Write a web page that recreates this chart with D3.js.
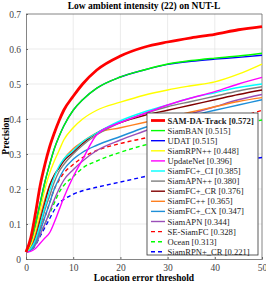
<!DOCTYPE html>
<html><head><meta charset="utf-8">
<script src="https://cdn.jsdelivr.net/npm/d3@7"></script>
<style>body{margin:0;background:#fff}svg{display:block}</style>
</head><body>
<svg id="c" width="266" height="284"></svg>
<script>
const thresholds = [0,1,2,3,4,5,6,7,8,10,12,15,20,25,30,35,40,45,50];
const xTicks = [0,10,20,30,40,50];
const yTicks = [0,0.1,0.2,0.3,0.4,0.5,0.6,0.7];
const names = ["SAM-DA-Track [0.572]","SiamBAN [0.515]","UDAT [0.515]","SiamRPN++ [0.448]","UpdateNet [0.396]","SiamFC+_CI [0.385]","SiamAPN++ [0.380]","SiamFC+_CR [0.376]","SiamFC++ [0.365]","SiamFC+_CX [0.347]","SiamAPN [0.344]","SE-SiamFC [0.328]","Ocean [0.313]","SiamRPN+_CR [0.221]"];
const samda     = [0.02,0.06,0.13,0.21,0.27,0.32,0.36,0.395,0.425,0.465,0.50,0.54,0.58,0.605,0.62,0.632,0.642,0.655,0.664];
const siamban   = [0.02,0.05,0.10,0.16,0.22,0.27,0.315,0.35,0.38,0.425,0.455,0.488,0.52,0.54,0.557,0.567,0.574,0.58,0.588];
const udat      = [0.02,0.05,0.10,0.16,0.22,0.27,0.315,0.35,0.38,0.425,0.455,0.488,0.52,0.54,0.556,0.565,0.571,0.576,0.582];
const siamrpnpp = [0.02,0.04,0.085,0.14,0.20,0.245,0.28,0.31,0.34,0.375,0.40,0.425,0.448,0.468,0.483,0.495,0.506,0.528,0.557];
const updatenet = [0.02,0.022,0.03,0.045,0.06,0.075,0.105,0.14,0.175,0.235,0.285,0.355,0.39,0.415,0.44,0.46,0.478,0.50,0.519];
const fcCI      = [0.02,0.03,0.055,0.10,0.15,0.195,0.235,0.265,0.285,0.31,0.335,0.36,0.395,0.42,0.44,0.46,0.475,0.49,0.50];
const apnpp     = [0.02,0.03,0.05,0.09,0.14,0.18,0.22,0.25,0.27,0.30,0.325,0.355,0.39,0.415,0.435,0.45,0.465,0.48,0.492];
const fcCR      = [0.02,0.03,0.06,0.11,0.16,0.21,0.24,0.26,0.28,0.305,0.33,0.36,0.39,0.41,0.425,0.44,0.455,0.47,0.483];
const fcpp      = [0.02,0.035,0.07,0.12,0.17,0.21,0.24,0.26,0.285,0.315,0.335,0.36,0.375,0.39,0.405,0.42,0.435,0.45,0.461];
const fcCX      = [0.02,0.025,0.045,0.08,0.12,0.16,0.20,0.23,0.255,0.285,0.305,0.325,0.35,0.375,0.395,0.41,0.425,0.44,0.455];
const apn       = [0.02,0.025,0.04,0.07,0.10,0.135,0.17,0.20,0.225,0.255,0.28,0.31,0.34,0.365,0.39,0.415,0.435,0.455,0.47];
const sesiamfc  = [0.02,0.03,0.05,0.085,0.12,0.16,0.20,0.225,0.245,0.27,0.29,0.31,0.33,0.345,0.36,0.375,0.39,0.405,0.425];
const ocean     = [0.02,0.025,0.04,0.07,0.10,0.13,0.16,0.19,0.21,0.235,0.26,0.28,0.305,0.325,0.34,0.355,0.37,0.385,0.397];
const rpnCR     = [0.02,0.025,0.04,0.065,0.09,0.115,0.14,0.16,0.17,0.185,0.195,0.205,0.22,0.235,0.25,0.26,0.27,0.28,0.29];
const seriesValues = [samda,siamban,udat,siamrpnpp,updatenet,fcCI,apnpp,fcCR,fcpp,fcCX,apn,sesiamfc,ocean,rpnCR];
const colors = ["#ff0000","#00ff00","#0000ff","#ffff00","#ff00ff","#00ffff","#808080","#800000","#ff8020","#1e8fd8","#9b4fb8","#ff0000","#00ff00","#0000ff"];
const dashed = [false,false,false,false,false,false,false,false,false,false,false,true,true,true];

const svg = d3.select("#c");
const L=26,R=262,T=14,B=259;
const x = d3.scaleLinear().domain([0,50]).range([L,R]);
const y = d3.scaleLinear().domain([0,0.7]).range([B,T]);
const serif = "'Liberation Serif','Times New Roman',serif";

// grid
svg.append("g").selectAll("line.gx").data(xTicks.slice(1,-1)).join("line")
  .attr("x1",d=>x(d)).attr("x2",d=>x(d)).attr("y1",T).attr("y2",B)
  .attr("stroke","#e6e6e6").attr("stroke-width",0.8);
svg.append("g").selectAll("line.gy").data(yTicks.slice(1,-1)).join("line")
  .attr("y1",d=>y(d)).attr("y2",d=>y(d)).attr("x1",L).attr("x2",R)
  .attr("stroke","#e6e6e6").attr("stroke-width",0.8);

// axes
const xa = svg.append("g").attr("transform",`translate(0,${B})`)
  .call(d3.axisBottom(x).tickValues(xTicks).tickSize(-2).tickPadding(5));
const ya = svg.append("g").attr("transform",`translate(${L},0)`)
  .call(d3.axisLeft(y).tickValues(yTicks).tickSize(-2).tickPadding(5).tickFormat(d=>d===0?"0":d3.format(".1f")(d)));
[xa,ya].forEach(a=>{
  a.select(".domain").attr("stroke","#666").attr("stroke-width",0.8);
  a.selectAll(".tick line").attr("stroke","#666");
  a.selectAll("text").attr("font-family",serif).attr("font-size",9.5).attr("fill","#444");
});
// top/right frame
svg.append("line").attr("x1",L).attr("x2",R).attr("y1",T).attr("y2",T).attr("stroke","#666").attr("stroke-width",0.8);
svg.append("line").attr("x1",R).attr("x2",R).attr("y1",T).attr("y2",B).attr("stroke","#666").attr("stroke-width",0.8);

// lines
const line = d3.line().x((d,i)=>x(thresholds[i])).y(d=>y(d)).curve(d3.curveMonotoneX);
const order = d3.range(seriesValues.length).reverse();
svg.append("g").selectAll("path").data(order).join("path")
  .attr("d",i=>line(seriesValues[i]))
  .attr("fill","none").attr("stroke",i=>colors[i])
  .attr("stroke-width",i=>i===0?2.8:1.4)
  .attr("stroke-dasharray",i=>dashed[i]?"4,3":null);

// title & labels
svg.append("text").attr("x",144).attr("y",9).attr("text-anchor","middle")
  .attr("font-family",serif).attr("font-weight","bold").attr("font-size",9.5).text("Low ambient intensity (22) on NUT-L");
svg.append("text").attr("x",144).attr("y",281).attr("text-anchor","middle")
  .attr("font-family",serif).attr("font-weight","bold").attr("font-size",9.5).text("Location error threshold");
svg.append("text").attr("transform","translate(9,136) rotate(-90)").attr("text-anchor","middle")
  .attr("font-family",serif).attr("font-weight","bold").attr("font-size",9.5).text("Precision");

// legend
const lg = svg.append("g");
lg.append("rect").attr("x",147).attr("y",113).attr("width",111).attr("height",142)
  .attr("fill","#fff").attr("stroke","#333").attr("stroke-width",0.8);
const rowH = 10.1, y0 = 120.5;
names.forEach((n,i)=>{
  const yy = y0 + i*rowH;
  lg.append("line").attr("x1",151).attr("x2",165).attr("y1",yy).attr("y2",yy)
    .attr("stroke",colors[i]).attr("stroke-width",i===0?2.8:1.4)
    .attr("stroke-dasharray",dashed[i]?"4,3":null);
  lg.append("text").attr("x",167.5).attr("y",yy+3).attr("font-family",serif)
    .attr("font-size",8.6).attr("font-weight",i===0?"bold":"normal").attr("fill","#222").text(n);
});
</script>
</body></html>
